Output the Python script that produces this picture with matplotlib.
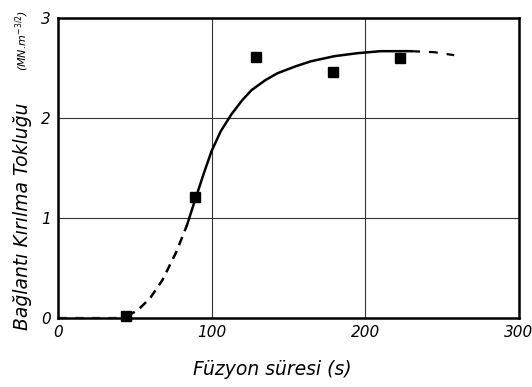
import numpy as np
import matplotlib.pyplot as plt

# measured points
t_meas = [44.5, 89, 129, 179, 222.5]
k_meas = [0.02, 1.21, 2.61, 2.46, 2.60]

# fitted trend, split into extrapolated (dashed) and supported (solid) parts
t_base = [0, 45]
k_base = [0.01, 0.01]
t_low = [45, 52, 60, 68, 77, 84]
k_low = [0.02, 0.08, 0.20, 0.38, 0.66, 0.93]
t_mid = [84, 89, 95, 100, 106, 113, 120, 126, 135, 143, 155, 165, 180, 195, 210, 230]
k_mid = [0.93, 1.17, 1.45, 1.67, 1.87, 2.04, 2.18, 2.28, 2.38, 2.45, 2.52, 2.57, 2.62, 2.65, 2.67, 2.67]
t_high = [230, 245, 258]
k_high = [2.67, 2.66, 2.63]

plt.rcParams['font.family'] = ['DejaVu Sans']

fig = plt.figure(figsize=(5.32, 3.87), dpi=100)
ax = fig.add_axes([0.109, 0.178, 0.866, 0.775])

ax.plot(t_base, k_base, color='k', lw=1.0, ls=(0, (6, 6)), alpha=0.6)
ax.plot(t_low, k_low, color='k', lw=1.8, ls=(0, (3.5, 2.5)))
ax.plot(t_mid, k_mid, color='k', lw=1.8)
ax.plot(t_high, k_high, color='k', lw=1.6, ls=(0, (4, 4)))
ax.plot(t_meas, k_meas, ls='none', marker='s', ms=7.5, color='k', clip_on=False, zorder=5)

ax.set_xlim(0, 300)
ax.set_ylim(0, 3)
ax.set_xticks([0, 100, 200, 300])
ax.set_yticks([0, 1, 2, 3])
ax.grid(True, color='#333333', lw=0.8)
ax.tick_params(length=0, labelsize=11, pad=5)
for lab in ax.get_xticklabels() + ax.get_yticklabels():
    lab.set_style('italic')
for s in ax.spines.values():
    s.set_linewidth(1.8)

ax.set_xlabel('Füzyon süresi (s)', fontsize=13.5, style='italic')
ax.xaxis.set_label_coords(0.465, -0.14)
fig.text(0.042, 0.44, 'Bağlantı Kırılma Tokluğu', rotation=90, fontsize=13.5,
         style='italic', ha='center', va='center')
fig.text(0.042, 0.895, r'(MN.m$^{-3/2}$)', rotation=90, fontsize=8,
         style='italic', ha='center', va='center')

fig.savefig('out.png', dpi=100)
